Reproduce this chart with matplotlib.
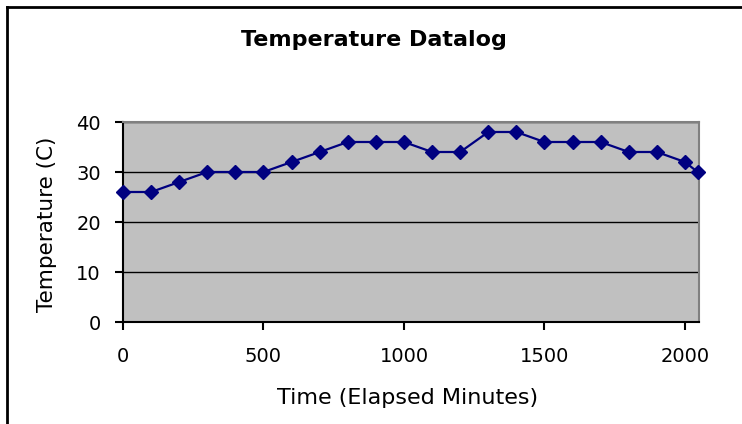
"""Temperature datalog: Excel-style line chart with diamond markers."""

import matplotlib.pyplot as plt
from matplotlib.lines import Line2D

# ------------------------------------------------------------
# DATA
# ------------------------------------------------------------
elapsed_min = [0, 100, 200, 300, 400, 500, 600, 700, 800, 900, 1000,
               1100, 1200, 1300, 1400, 1500, 1600, 1700, 1800, 1900, 2000, 2045]
temperature_c = [26, 26, 28, 30, 30, 30, 32, 34, 36, 36, 36,
                 34, 34, 38, 38, 36, 36, 36, 34, 34, 32, 30]
x_ticks = [0, 500, 1000, 1500, 2000]
y_ticks = [0, 10, 20, 30, 40]

TITLE = "Temperature Datalog"
XLABEL = "Time (Elapsed Minutes)"
YLABEL = "Temperature (C)"

NAVY = "#000080"
PLOT_BG = "#C0C0C0"

plt.rcParams["font.family"] = ["DejaVu Sans"]

W, H = 742, 424
fig = plt.figure(figsize=(W / 100, H / 100), dpi=100)

# plot area in pixels: x 123..699, y 122..322
ax = fig.add_axes([123 / W, 1 - 322 / H, (699 - 123) / W, (322 - 122) / H])
ax.set_facecolor(PLOT_BG)

ax.plot(elapsed_min, temperature_c, color=NAVY, lw=1.6, marker="D",
        ms=7.2, mfc=NAVY, mec=NAVY, mew=1, clip_on=False, zorder=5)

ax.set_xlim(0, 2050)
ax.set_ylim(0, 40)
ax.set_xticks(x_ticks)
ax.set_yticks(y_ticks)
ax.grid(axis="y", color="black", lw=1.0)
ax.set_axisbelow(True)

for side in ("top", "right"):
    ax.spines[side].set_color("#808080")
    ax.spines[side].set_linewidth(1.5)
for side in ("left", "bottom"):
    ax.spines[side].set_color("black")
    ax.spines[side].set_linewidth(1.5)

ax.tick_params(axis="both", direction="out", length=6, width=1.5,
               labelsize=14, colors="black")
ax.tick_params(axis="y", pad=10)
ax.tick_params(axis="x", pad=12)

fig.text(374 / W, 1 - 40 / H, TITLE, ha="center", va="center",
         fontsize=16, fontweight="bold")
fig.text(408 / W, 1 - 398 / H, XLABEL, ha="center", va="center", fontsize=16)
fig.text(47 / W, 1 - 224 / H, YLABEL, ha="center", va="center",
         rotation=90, fontsize=15.5)

# chart border (only top and left visible in the reference)
fig.add_artist(Line2D([7 / W, 7 / W], [0, 1 - 7 / H], color="black", lw=2,
                      transform=fig.transFigure))
fig.add_artist(Line2D([7 / W, 1], [1 - 7 / H, 1 - 7 / H], color="black", lw=2,
                      transform=fig.transFigure))

fig.savefig("out.png", dpi=100)
